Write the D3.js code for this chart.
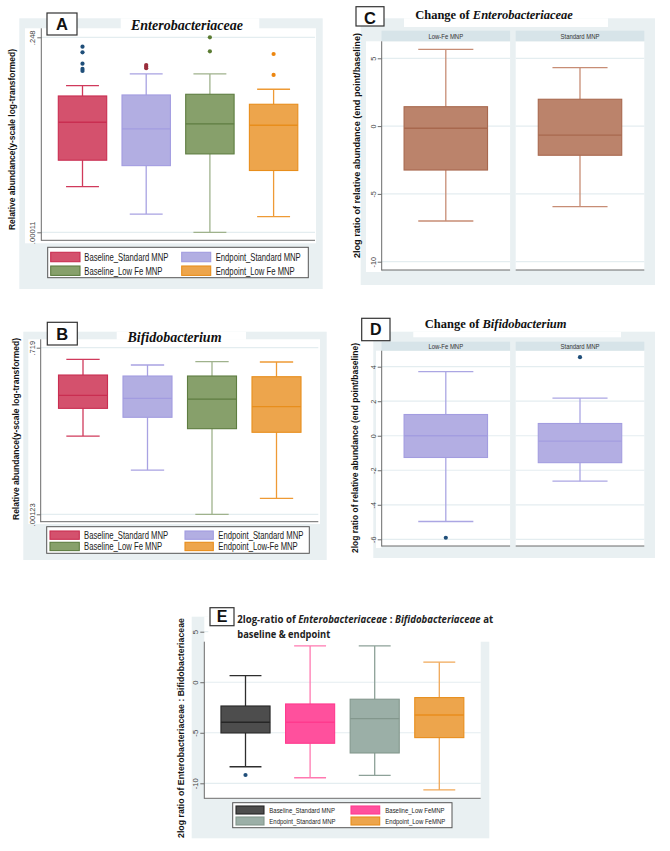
<!DOCTYPE html>
<html><head><meta charset="utf-8">
<script src="https://cdn.jsdelivr.net/npm/d3@7"></script>
<style>body{margin:0;background:#fff}svg{display:block}</style>
</head><body><svg id="c" width="670" height="851"></svg>
<script>
// ---------------- DATA ----------------
const groupsAB = ["Baseline_Standard MNP","Endpoint_Standard MNP","Baseline_Low Fe MNP","Endpoint_Low Fe MNP"];
const legendLabelsA = ["Baseline_Standard MNP","Endpoint_Standard MNP","Baseline_Low Fe MNP","Endpoint_Low Fe MNP"];
const legendLabelsB = ["Baseline_Standard MNP","Endpoint_Standard MNP","Baseline_Low Fe MNP","Endpoint_Low-Fe MNP"];

// Panel A: Enterobacteriaceae relative abundance (log scale)
const entTicks = [0.00011, 0.248];
const entTickLabels = [".00011", ".248"];
const entLo  = [0.00067, 0.000226, 0.00011, 0.000205];
const entQ1  = [0.00191, 0.00154, 0.00245, 0.00127];
const entMed = [0.00859, 0.00659, 0.00803, 0.00763];
const entQ3  = [0.0243, 0.0253, 0.0260, 0.0175];
const entHi  = [0.0366, 0.0581, 0.0581, 0.0317];
const entOut = [[0.171, 0.137, 0.0873, 0.0708, 0.0654], [0.0829, 0.0775, 0.0728], [0.248, 0.1426], [0.128, 0.0558]];

// Panel B: Bifidobacterium relative abundance (log scale)
const bifTicks = [0.00123, 0.719];
const bifTickLabels = [".00123", ".719"];
const bifLo  = [0.0245, 0.00668, 0.00123, 0.00226];
const bifQ1  = [0.0707, 0.0502, 0.0325, 0.0283];
const bifMed = [0.1164, 0.1038, 0.101, 0.0753];
const bifQ3  = [0.253, 0.2436, 0.2436, 0.237];
const bifHi  = [0.461, 0.371, 0.421, 0.416];

// Panels C & D: change (2log ratio end point / baseline)
const facets = ["Low-Fe MNP", "Standard MNP"];
const entChgTicks = [-10, -5, 0, 5];
const entChgLo  = [-7.0, -5.94];
const entChgQ1  = [-3.24, -2.15];
const entChgMed = [-0.16, -0.66];
const entChgQ3  = [1.43, 1.98];
const entChgHi  = [5.66, 4.31];

const bifChgTicks = [-6, -4, -2, 0, 2, 4];
const bifChgLo  = [-4.97, -2.63];
const bifChgQ1  = [-1.26, -1.56];
const bifChgMed = [0.0, -0.31];
const bifChgQ3  = [1.23, 0.71];
const bifChgHi  = [3.71, 2.18];
const bifChgOut = [[-5.91], [4.55]];

// Panel E: 2log ratio Enterobacteriaceae : Bifidobacteriaceae
const ratioGroups = ["Baseline_Standard MNP","Baseline_Low FeMNP","Endpoint_Standard MNP","Endpoint_Low FeMNP"];
const ratioTicks = [-10, -5, 0, 5];
const ratioLo  = [-8.36, -9.45, -9.21, -10.66];
const ratioQ1  = [-5.02, -6.04, -7.0, -5.48];
const ratioMed = [-3.96, -3.96, -3.6, -3.24];
const ratioQ3  = [-2.35, -2.15, -1.68, -1.52];
const ratioHi  = [0.65, 3.59, 3.59, 1.98];
const ratioOut = [[-9.18], [], [], []];

// ---------------- STYLES ----------------
const BG = "#E9F0F2", GRID = "#E4EDF0", STRIP = "#D7E4E9", AXIS = "#6b6b6b";
const palAB = [
  {fill:"#D4516D", stroke:"#C92E51", whisker:"#D03A5B", dot:"#1F4E79"},
  {fill:"#B2AEE2", stroke:"#A29CE0", whisker:"#A8A2E2", dot:"#9A2E3C"},
  {fill:"#87A06B", stroke:"#5E7D41", whisker:"#9FB28C", dot:"#5B7C33"},
  {fill:"#EDA54C", stroke:"#E88E1C", whisker:"#EE9A35", dot:"#EC860F"}
];
const palC = [{fill:"#BB836B", stroke:"#A8684E", whisker:"#C78D75"},{fill:"#BB836B", stroke:"#A8684E", whisker:"#C78D75"}];
const palD = [{fill:"#B3AEE3", stroke:"#A39DE0", whisker:"#ABA6E3", dot:"#1F4E79"},{fill:"#B3AEE3", stroke:"#A39DE0", whisker:"#ABA6E3", dot:"#1F4E79"}];
const palE = [
  {fill:"#4D4D4D", stroke:"#262626", whisker:"#2E2E2E", dot:"#1F4E79"},
  {fill:"#FF509D", stroke:"#FF3A8E", whisker:"#FF78B0"},
  {fill:"#9BAFA7", stroke:"#83978D", whisker:"#8DA198"},
  {fill:"#EDA54C", stroke:"#E88E1C", whisker:"#F0A858"}
];

const svg = d3.select("#c");
const SANS = "'Liberation Sans', Arial, sans-serif";
const SERIF = "'Liberation Serif', 'Times New Roman', serif";

function rect(x, y, w, h, fill, stroke, sw) {
  return svg.append("rect").attr("x", x).attr("y", y).attr("width", w).attr("height", h)
    .attr("fill", fill).attr("stroke", stroke || "none").attr("stroke-width", sw || 0);
}
function line(x1, y1, x2, y2, col, sw) {
  svg.append("line").attr("x1", x1).attr("y1", y1).attr("x2", x2).attr("y2", y2)
    .attr("stroke", col).attr("stroke-width", sw || 1);
}
function narrow(x, y, str, size, sx, opts) {
  opts = opts || {};
  const t = svg.append("text").attr("transform", `translate(${x},${y}) scale(${sx},1)`)
    .attr("font-family", opts.family || SANS).attr("font-size", size)
    .attr("fill", opts.fill || "#333").attr("text-anchor", opts.anchor || "start")
    .attr("dominant-baseline", opts.baseline || "central");
  if (opts.weight) t.attr("font-weight", opts.weight);
  t.text(str);
  return t;
}
function fitWidth(textSel, x, y, width) {
  // scale a text horizontally so its rendered width equals `width`
  const len = textSel.node().getComputedTextLength();
  textSel.attr("transform", `translate(${x},${y}) scale(${width / len},1)`);
}
function labelBox(x, y, w, h, letter, bx, by, size) {
  rect(x, y, w, h, "#fff", "#333", 1.2);
  svg.append("text").attr("x", bx).attr("y", by).attr("text-anchor", "middle")
    .attr("font-family", SANS).attr("font-weight", "bold").attr("font-size", size)
    .attr("fill", "#111").text(letter);
}
function yTitle(cx, cy, str, size, len) {
  svg.append("text").attr("transform", `translate(${cx},${cy}) rotate(-90)`)
    .attr("text-anchor", "middle").attr("dominant-baseline", "central")
    .attr("font-family", SANS).attr("font-weight", "bold").attr("font-size", size)
    .attr("fill", "#111").attr("textLength", len).attr("lengthAdjust", "spacingAndGlyphs").text(str);
}
function yAxis(scale, ticks, labels, axisX, fontSize, gridSegs) {
  gridSegs.forEach(([a, b]) => {
    ticks.forEach(t => line(a, scale(t), b, scale(t), GRID, 1.2));
  });
  const ax = d3.axisLeft(scale).tickValues(ticks).tickSize(4).tickSizeOuter(0)
    .tickFormat((d, i) => labels[i]);
  const g = svg.append("g").attr("transform", `translate(${axisX},0)`).call(ax);
  g.select(".domain").remove();
  g.selectAll(".tick line").attr("stroke", AXIS);
  g.selectAll(".tick text").attr("transform", "rotate(-90)").attr("x", 0).attr("y", -6)
    .attr("dy", 0).attr("text-anchor", "middle").attr("font-family", SANS)
    .attr("font-size", fontSize).attr("fill", "#444");
}
function drawBoxes(x, y, keys, lo, q1, med, q3, hi, out, pal, capRatio) {
  const bw = x.bandwidth();
  keys.forEach((k, i) => {
    const s = pal[i];
    const cx = x(k) + bw / 2, x0 = x(k);
    const cap = bw * capRatio;
    const g = svg.append("g");
    g.append("line").attr("x1", cx).attr("x2", cx).attr("y1", y(q3[i])).attr("y2", y(hi[i]))
      .attr("stroke", s.whisker).attr("stroke-width", 1.3);
    g.append("line").attr("x1", cx).attr("x2", cx).attr("y1", y(q1[i])).attr("y2", y(lo[i]))
      .attr("stroke", s.whisker).attr("stroke-width", 1.3);
    g.append("line").attr("x1", cx - cap / 2).attr("x2", cx + cap / 2).attr("y1", y(hi[i])).attr("y2", y(hi[i]))
      .attr("stroke", s.whisker).attr("stroke-width", 1.3);
    g.append("line").attr("x1", cx - cap / 2).attr("x2", cx + cap / 2).attr("y1", y(lo[i])).attr("y2", y(lo[i]))
      .attr("stroke", s.whisker).attr("stroke-width", 1.3);
    g.append("rect").attr("x", x0).attr("width", bw).attr("y", y(q3[i])).attr("height", y(q1[i]) - y(q3[i]))
      .attr("fill", s.fill).attr("stroke", s.stroke).attr("stroke-width", 1.1);
    g.append("line").attr("x1", x0).attr("x2", x0 + bw).attr("y1", y(med[i])).attr("y2", y(med[i]))
      .attr("stroke", s.stroke).attr("stroke-width", 1.3);
    if (out && out[i]) {
      out[i].forEach(v => g.append("circle").attr("cx", cx).attr("cy", y(v)).attr("r", 2.1).attr("fill", s.dot));
    }
  });
}
function legend(box, rows, sw, txtX, labels, pal, size, sx) {
  rect(box[0], box[1], box[2], box[3], "#fff", "#555", 1);
  labels.forEach((lab, i) => {
    const r = Math.floor(i / 2), c = i % 2;
    const [y0, h] = rows[r];
    rect(sw[c][0], y0, sw[c][1], h, pal[i].fill, pal[i].stroke, 1.1);
    narrow(txtX[c], y0 + h / 2 + 0.5, lab, size, sx, {fill: "#222"});
  });
}

// ================= PANEL A =================
rect(19.3, 18.3, 303.4, 270.7, BG);
rect(25, 28.3, 291, 215, "#fff");
rect(120.7, 18.3, 138.6, 10.5, "#fff");
const xA = d3.scaleBand().domain(groupsAB).range([50.65, 305.45]).paddingInner(0.24).paddingOuter(0.12);
const yA = d3.scaleLog().domain([0.00011, 0.248]).range([232.3, 37.3]);
yAxis(yA, entTicks, entTickLabels, 41.3, 7.6, [[41.3, 315]]);
drawBoxes(xA, yA, groupsAB, entLo, entQ1, entMed, entQ3, entHi, entOut, palAB, 0.68);
line(41.3, 28.3, 41.3, 240.8, AXIS, 1);
line(41.3, 240.3, 315, 240.3, AXIS, 1);
legend([47.7, 247.3, 260.6, 30.4], [[252.3, 9.4], [266, 9.4]], [[50.7, 29.3], [181.7, 29]], [84.3, 215.7],
  legendLabelsA, palAB, 10, 0.77);
labelBox(47, 13, 30, 22, "A", 62, 30, 16.5);
svg.append("text").attr("x", 187).attr("y", 29.5).attr("text-anchor", "middle")
  .attr("font-family", SERIF).attr("font-weight", "bold").attr("font-style", "italic")
  .attr("font-size", 14).attr("fill", "#111").text("Enterobacteriaceae");
yTitle(12, 139.5, "Relative abundance(y-scale log-transformed)", 9, 181);

// ================= PANEL B =================
rect(23.3, 331.7, 303.4, 228.3, BG);
rect(28.3, 339.3, 291.7, 184.7, "#fff");
rect(116.7, 331.7, 129.3, 8, "#fff");
const xB = d3.scaleBand().domain(groupsAB).range([50.75, 308.75]).paddingInner(0.24).paddingOuter(0.12);
const yB = d3.scaleLog().domain([0.00123, 0.719]).range([514.3, 347.7]);
yAxis(yB, bifTicks, bifTickLabels, 40.7, 7.6, [[40.7, 318.3]]);
drawBoxes(xB, yB, groupsAB, bifLo, bifQ1, bifMed, bifQ3, bifHi, null, palAB, 0.68);
line(40.7, 339.3, 40.7, 522.2, AXIS, 1);
line(40.7, 521.7, 318.3, 521.7, AXIS, 1);
legend([46.7, 526.7, 262.6, 26.6], [[531, 8.3], [542.3, 8.3]], [[50, 29.3], [185, 28.3]], [84, 218.3],
  legendLabelsB, palAB, 10, 0.77);
labelBox(47.3, 322.3, 30, 22.7, "B", 62.3, 339.5, 16.5);
svg.append("text").attr("x", 174.5).attr("y", 341.5).attr("text-anchor", "middle")
  .attr("font-family", SERIF).attr("font-weight", "bold").attr("font-style", "italic")
  .attr("font-size", 14).attr("fill", "#111").text("Bifidobacterium");
yTitle(16, 429, "Relative abundance(y-scale log-transformed)", 9, 182);

// ================= FACET PANELS (C, D) =================
function facetPanel(cfg) {
  rect(cfg.bg[0], cfg.bg[1], cfg.bg[2], cfg.bg[3], BG);
  rect(cfg.titleWhite[0], cfg.titleWhite[1], cfg.titleWhite[2], cfg.titleWhite[3], "#fff");
  const x = d3.scaleBand().domain(facets).range(cfg.xr).paddingInner(0.378).paddingOuter(0.189);
  const y = d3.scaleLinear().domain(cfg.yd).range(cfg.yr);
  const half = x.step() / 2 - 2.8;
  rect(cfg.marginX, cfg.stripY[1], x(facets[0]) + x.bandwidth() / 2 - half - cfg.marginX, cfg.bottom + 2 - cfg.stripY[1], "#fff");
  const segs = [];
  facets.forEach(f => {
    const cx = x(f) + x.bandwidth() / 2;
    rect(cx - half, cfg.stripY[1], 2 * half, cfg.bottom - cfg.stripY[1], "#fff");
    rect(cx - half, cfg.stripY[0], 2 * half, cfg.stripY[1] - cfg.stripY[0], STRIP);
    narrow(cx, (cfg.stripY[0] + cfg.stripY[1]) / 2 + 0.3, f, 7, 0.85, {anchor: "middle", fill: "#333"});
    segs.push([cx - half, cx + half]);
  });
  segs[0][0] = cfg.axisX;
  yAxis(y, cfg.ticks, cfg.ticks.map(String), cfg.axisX, 7.2, segs);
  drawBoxes(x, y, facets, cfg.lo, cfg.q1, cfg.med, cfg.q3, cfg.hi, cfg.out, cfg.pal, 0.66);
  line(cfg.axisX, cfg.stripY[1], cfg.axisX, cfg.bottom + 0.5, AXIS, 1);
  segs.forEach(([a, b]) => line(a, cfg.bottom, b, cfg.bottom, AXIS, 1));
}

facetPanel({
  bg: [360.7, 18.3, 294.3, 266.7], titleWhite: [404, 18.3, 204, 8.7],
  xr: [378.7, 647.1], yd: [-10, 5], yr: [261.7, 58.3], stripY: [30.7, 41.3], bottom: 270,
  marginX: 366, axisX: 381.7, ticks: entChgTicks,
  lo: entChgLo, q1: entChgQ1, med: entChgMed, q3: entChgQ3, hi: entChgHi, out: null, pal: palC
});
labelBox(356, 6.7, 28, 19.3, "C", 370, 23.5, 16.5);
{
  const t = svg.append("text").attr("x", 494).attr("y", 19).attr("text-anchor", "middle")
    .attr("font-family", SERIF).attr("font-weight", "bold").attr("font-size", 12.5).attr("fill", "#111");
  t.append("tspan").text("Change of ");
  t.append("tspan").attr("font-style", "italic").text("Enterobacteriaceae");
}
yTitle(356, 145.5, "2log ratio of relative abundance (end point/baseline)", 9.5, 225);

facetPanel({
  bg: [373.3, 331.7, 281.7, 226.3], titleWhite: [413.3, 331.7, 207.7, 5.6],
  xr: [378.7, 647.1], yd: [-6, 4], yr: [539.3, 366.7], stripY: [341.7, 350.7], bottom: 546,
  marginX: 376, axisX: 381.7, ticks: bifChgTicks,
  lo: bifChgLo, q1: bifChgQ1, med: bifChgMed, q3: bifChgQ3, hi: bifChgHi, out: bifChgOut, pal: palD
});
labelBox(361.7, 318.3, 28.3, 22.4, "D", 375.8, 335, 16);
{
  const t = svg.append("text").attr("x", 495.7).attr("y", 328).attr("text-anchor", "middle")
    .attr("font-family", SERIF).attr("font-weight", "bold").attr("font-size", 12.5).attr("fill", "#111");
  t.append("tspan").text("Change of ");
  t.append("tspan").attr("font-style", "italic").text("Bifidobacterium");
}
yTitle(354, 448, "2log ratio of relative abundance (end point/baseline)", 9.5, 210);

// ================= PANEL E =================
rect(191.7, 616.7, 297.6, 221.6, BG);
rect(204.3, 616.7, 276.4, 182.3, "#fff");
const xE = d3.scaleBand().domain(ratioGroups).range([213.2, 471.6]).paddingInner(0.24).paddingOuter(0.12);
const yE = d3.scaleLinear().domain([-10, 5]).range([783.3, 631.7]);
yAxis(yE, ratioTicks, ratioTicks.map(String), 204.3, 7.6, [[204.3, 480.7]]);
rect(208.3, 600, 290, 41.7, "#fff");
drawBoxes(xE, yE, ratioGroups, ratioLo, ratioQ1, ratioMed, ratioQ3, ratioHi, ratioOut, palE, 0.65);
line(204.3, 641.7, 204.3, 798.8, AXIS, 1);
line(204.3, 798.3, 480.7, 798.3, AXIS, 1);
legend([232.7, 802.7, 219.3, 25], [[806, 8], [817, 8]], [[236, 28], [351, 28.7]], [269.3, 385.3],
  ratioGroups, palE, 7.5, 0.8);
labelBox(210, 607.7, 24, 18, "E", 222, 622, 16);
{
  const EF = "'Open Sans', 'Noto Sans', sans-serif";
  const t = svg.append("text").attr("font-family", EF)
    .attr("font-weight", "bold").attr("font-size", 11).attr("fill", "#222");
  t.append("tspan").text("2log-ratio of ");
  t.append("tspan").attr("font-style", "italic").text("Enterobacteriaceae");
  t.append("tspan").text(" : ");
  t.append("tspan").attr("font-style", "italic").text("Bifidobacteriaceae");
  t.append("tspan").text(" at");
  fitWidth(t, 237.3, 623, 256);
  const t2 = svg.append("text").attr("font-family", EF)
    .attr("font-weight", "bold").attr("font-size", 11).attr("fill", "#222").text("baseline & endpoint");
  fitWidth(t2, 237.3, 637.5, 93);
}
yTitle(180.5, 728, "2log ratio of Enterobacteriaceae : Bifidobacteriaceae", 9.5, 220);
</script></body></html>
